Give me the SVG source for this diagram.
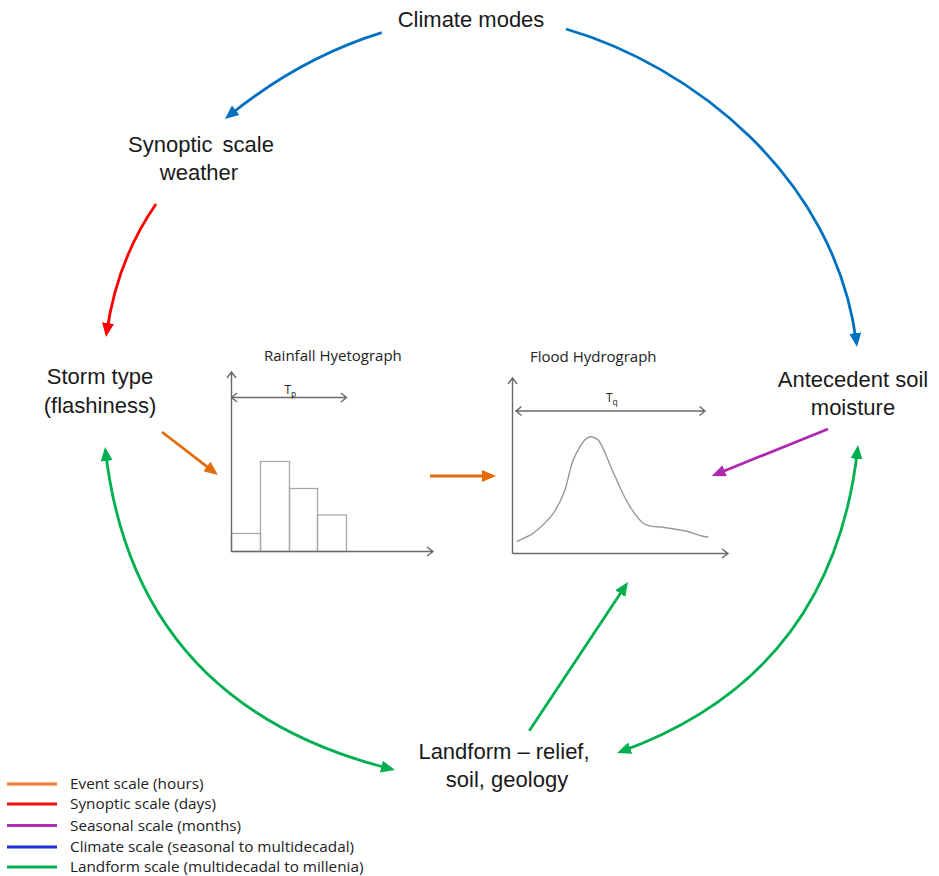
<svg xmlns="http://www.w3.org/2000/svg" width="939" height="876" viewBox="0 0 939 876">
<style>
.lbl{font-family:"Liberation Sans",Arial,sans-serif;font-size:22px;fill:#1a1a1a;text-anchor:middle}
.ttl{font-family:"Open Sans","Liberation Sans",sans-serif;font-size:15px;fill:#222}
.leg{font-family:"Open Sans","Liberation Sans",sans-serif;font-size:15.3px;fill:#222}
.sm{font-family:"Open Sans","Liberation Sans",sans-serif;font-size:12px;fill:#222}
.ax{stroke:#6a6a6a;stroke-width:1.4;fill:none}
.bar{stroke:#a8a8a8;stroke-width:1.3;fill:none}
.crv{stroke:#999;stroke-width:1.4;fill:none}
.c{fill:none;stroke-width:2.8}
.blue{stroke:#0070C0}.red{stroke:#FF0000}.org{stroke:#E46C0A}.pur{stroke:#B028B0}.grn{stroke:#00B050}
</style>
<defs>
<marker id="mb" markerUnits="userSpaceOnUse" markerWidth="14" markerHeight="12" refX="10" refY="6" orient="auto"><path d="M0,0 L14,6 L0,12 z" fill="#0070C0"/></marker>
<marker id="mr" markerUnits="userSpaceOnUse" markerWidth="14" markerHeight="12" refX="10" refY="6" orient="auto"><path d="M0,0 L14,6 L0,12 z" fill="#FF0000"/></marker>
<marker id="mo" markerUnits="userSpaceOnUse" markerWidth="14" markerHeight="12" refX="10" refY="6" orient="auto"><path d="M0,0 L14,6 L0,12 z" fill="#E46C0A"/></marker>
<marker id="mp" markerUnits="userSpaceOnUse" markerWidth="14" markerHeight="12" refX="10" refY="6" orient="auto"><path d="M0,0 L14,6 L0,12 z" fill="#B028B0"/></marker>
<marker id="mg" markerUnits="userSpaceOnUse" markerWidth="14" markerHeight="12" refX="10" refY="6" orient="auto-start-reverse"><path d="M0,0 L14,6 L0,12 z" fill="#00B050"/></marker>
</defs>
<rect width="939" height="876" fill="#fff"/>

<g id="climate-modes"><text class="lbl" x="471" y="27">Climate modes</text></g>
<g id="synoptic-weather"><text class="lbl" x="201" y="151.5" word-spacing="4">Synoptic scale</text><text class="lbl" x="199" y="180">weather</text></g>
<g id="storm-type"><text class="lbl" x="100" y="384">Storm type</text><text class="lbl" x="100" y="412.5">(flashiness)</text></g>
<g id="antecedent-soil-moisture"><text class="lbl" x="853" y="387">Antecedent soil</text><text class="lbl" x="853" y="415">moisture</text></g>
<g id="landform"><text class="lbl" x="504" y="759">Landform – relief,</text><text class="lbl" x="507" y="787">soil, geology</text></g>

<g id="rainfall-hyetograph">
<text class="ttl" x="264" y="360.5">Rainfall Hyetograph</text>
<rect class="bar" x="231.5" y="533.5" width="29" height="18"/>
<rect class="bar" x="260.5" y="461.5" width="29" height="90"/>
<rect class="bar" x="289.5" y="488.5" width="28" height="63"/>
<rect class="bar" x="317.5" y="515" width="29" height="36.5"/>
<path class="ax" d="M231.5,551.5 V372 M227,378 L231.5,372 L236,378 M231.5,551.5 H433 M427,547 L433,551.5 L427,556"/>
<path class="ax" d="M231.5,397.5 H346.5 M237,393 L231.5,397.5 L237,402 M341,393 L346.5,397.5 L341,402"/>
<text class="sm" x="284.5" y="393.5">T<tspan font-size="8.5" dy="3">p</tspan></text>
</g>

<g id="flood-hydrograph">
<text class="ttl" x="530" y="361.5">Flood Hydrograph</text>
<path class="ax" d="M512.5,553.5 V378 M508,384 L512.5,378 L517,384 M512.5,553.5 H728 M722,549 L728,553.5 L722,558"/>
<path class="ax" d="M516,411 H705 M521.5,406.5 L516,411 L521.5,415.5 M699.5,406.5 L705,411 L699.5,415.5"/>
<text class="sm" x="606" y="401.5">T<tspan font-size="8.5" dy="3">q</tspan></text>
<path class="crv" d="M516.7,541.7 C524,538 529,536 533.3,533.3 C541,527 548,521 553.3,513.3 C559,505 562,498 565,490 C568,480 570,468 573.3,460 C577,451 580,446 583.3,441.7 C586,438 589,436.5 591.7,436.7 C594,437 596,438 598.3,440 C602,445 604,450 606.7,456.7 C610,465 613,472 616.7,480 C621,490 625,499 630,506.7 C634,513 638,519 643.3,523.3 C647,526 651,526.5 656.7,526.7 C664,527 672,528.5 680,530 C686,531 689,531.5 693.3,533.3 C698,535 703,536.5 708.3,537.3"/>
</g>

<g id="connectors">
<path class="c blue" d="M381.7,32.7 Q300,58 228,116.5" marker-end="url(#mb)"/>
<path class="c blue" d="M566,29 C690,65 835,175 856.5,343" marker-end="url(#mb)"/>
<path class="c red" d="M156,204 Q117,260 106.6,333" marker-end="url(#mr)"/>
<path class="c org" d="M162,432 L214.8,472.6" marker-end="url(#mo)"/>
<path class="c org" d="M430,476 H492" marker-end="url(#mo)"/>
<path class="c pur" d="M828,429 L715.4,474.5" marker-end="url(#mp)"/>
<path class="c grn" d="M529.3,730.7 L625.8,585.3" marker-end="url(#mg)"/>
<path class="c grn" d="M105.5,451 Q135,705 391.1,769" marker-start="url(#mg)" marker-end="url(#mg)"/>
<path class="c grn" d="M857.6,449 Q832.5,675 620.8,751.6" marker-start="url(#mg)" marker-end="url(#mg)"/>
</g>

<g id="legend">
<line x1="7" y1="784" x2="57" y2="784" stroke="#ED7D31" stroke-width="2.8"/>
<line x1="7" y1="804" x2="57" y2="804" stroke="#F01010" stroke-width="2.8"/>
<line x1="7" y1="825.5" x2="57" y2="825.5" stroke="#B030B0" stroke-width="2.8"/>
<line x1="7" y1="847" x2="57" y2="847" stroke="#1F2FE0" stroke-width="2.8"/>
<line x1="7" y1="867" x2="57" y2="867" stroke="#00B050" stroke-width="2.8"/>
<text class="leg" x="70" y="789">Event scale (hours)</text>
<text class="leg" x="70" y="809">Synoptic scale (days)</text>
<text class="leg" x="70" y="831">Seasonal scale (months)</text>
<text class="leg" x="70" y="852">Climate scale (seasonal to multidecadal)</text>
<text class="leg" x="70" y="872">Landform scale (multidecadal to millenia)</text>
</g>
</svg>
